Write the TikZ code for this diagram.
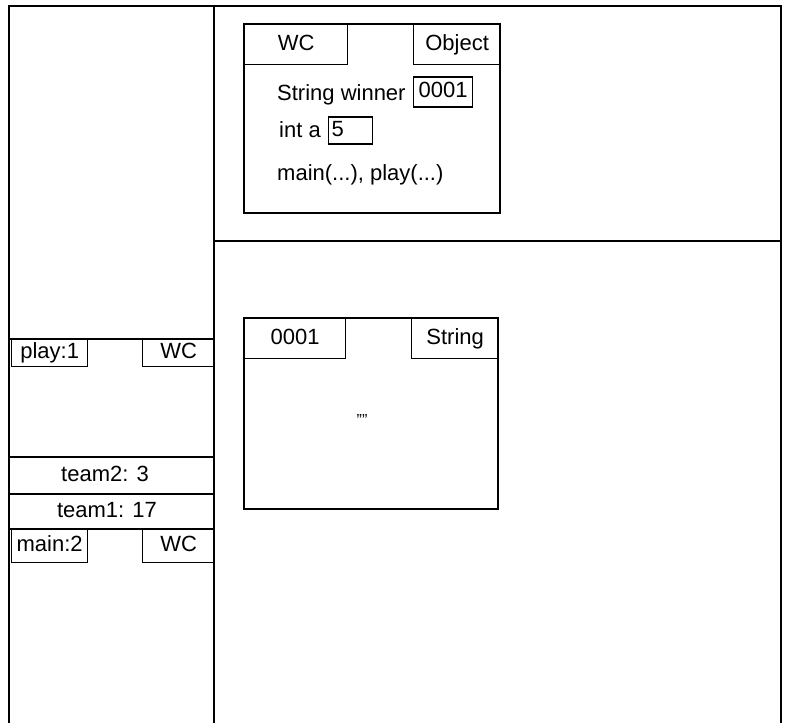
\documentclass[tikz,border=0pt]{standalone}
\usepackage{fontspec}
\setmainfont{Liberation Sans}
\usetikzlibrary{positioning}

\tikzset{
  wall/.style={draw=black, line width=1.3pt},
  tab/.style={draw=black, line width=1.3pt, anchor=north west, inner sep=0pt,
    text height=15pt, text depth=4pt, font=\fontsize{22}{26}\selectfont},
  field/.style={anchor=west, inner sep=0pt, text height=15pt, text depth=4pt,
    font=\fontsize{22}{26}\selectfont},
  slot/.style={draw=black, line width=1.3pt, anchor=north west, inner sep=2pt,
    text height=15pt, text depth=4pt, font=\fontsize{22}{26}\selectfont},
}

\begin{document}
\begin{tikzpicture}[x=1pt, y=-1pt]
  \useasboundingbox (0,0) rectangle (788,723);

  % stack and heap areas
  \draw[wall] (9,723) -- (9,6) -- (781,6) -- (781,723);
  \draw[wall] (214,6) -- (214,723);
  \draw[wall] (214,241) -- (781,241);

  % stack frames
  \draw[wall] (9,339) -- (214,339);
  \node[tab, minimum width=76pt, minimum height=27pt] (play) at (11,339) {play:1};
  \node[tab, minimum width=72pt, minimum height=27pt] (playcls) at (142,339) {WC};
  \draw[wall] (9,457) -- (214,457);
  \node[field, anchor=center] (team2) at (105,476) {team2: 3};
  \draw[wall] (9,494) -- (214,494);
  \node[field, anchor=center] (team1) at (107,512) {team1: 17};
  \draw[wall] (9,529) -- (214,529);
  \node[tab, minimum width=76pt, minimum height=33pt] (main) at (11,529) {main:2};
  \node[tab, minimum width=72pt, minimum height=33pt] (maincls) at (142,529) {WC};

  % class object WC
  \draw[wall] (244,24) rectangle (500,213);
  \node[tab, minimum width=103pt, minimum height=40pt] (wc) at (244,24) {WC};
  \node[tab, minimum width=87pt, minimum height=40pt] (obj) at (413,24) {Object};
  \node[field] (winner) at (277,95) {String winner};
  \node[slot, minimum width=59pt, minimum height=30pt, anchor=west] (ref) at (413,92) {0001};
  \node[field] (inta) at (279,132) {int a};
  \node[slot, minimum width=44pt, minimum height=27pt, anchor=west, text width=38pt, align=left] (aval) at (328,130.5) {5};
  \node[field] (methods) at (277,175) {main(...), play(...)};

  % string object 0001
  \draw[wall] (244,318) rectangle (498,509);
  \node[tab, minimum width=101pt, minimum height=40pt] (addr) at (244,318) {0001};
  \node[tab, minimum width=87pt, minimum height=40pt] (str) at (411,318) {String};
  \node[font=\fontsize{16}{18}\selectfont] (empty) at (362,420) {""};
\end{tikzpicture}
\end{document}
